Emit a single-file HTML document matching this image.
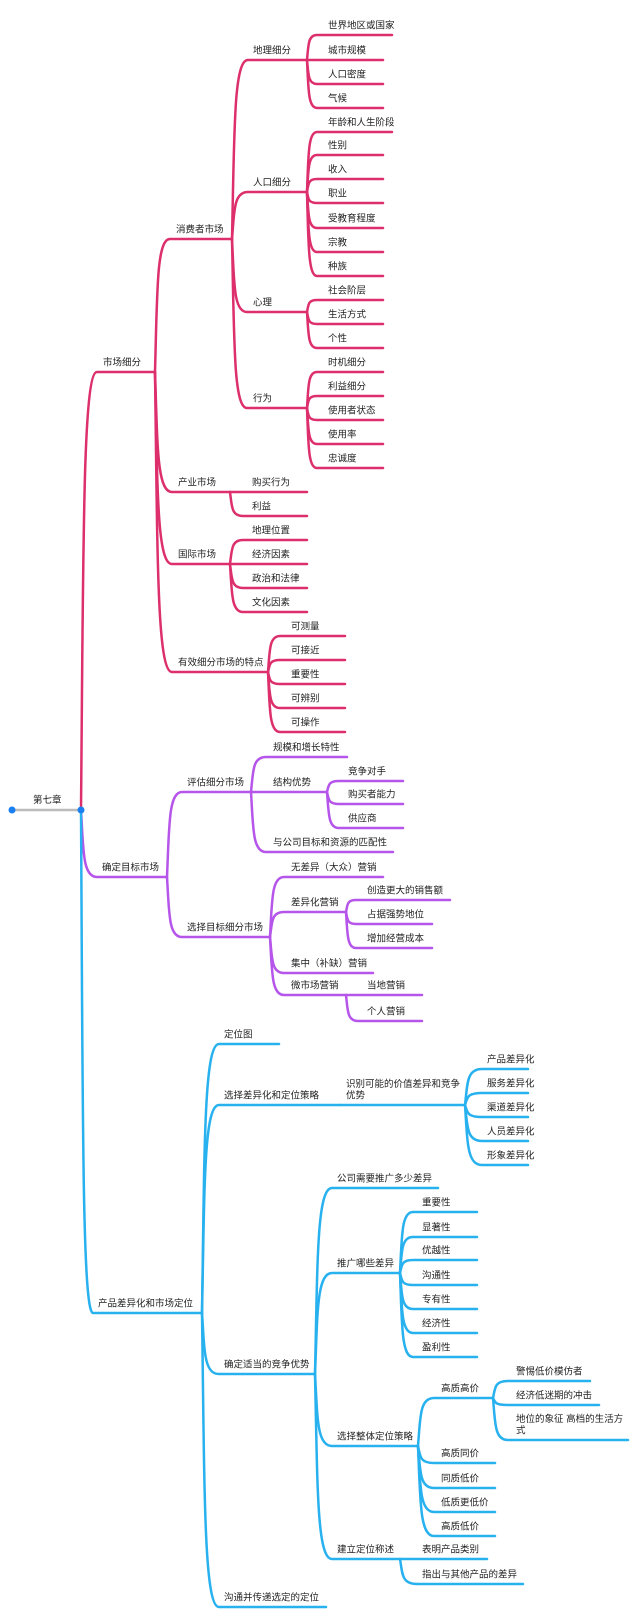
<!DOCTYPE html>
<html><head><meta charset="utf-8">
<style>
html,body{margin:0;padding:0;background:#fff;}
svg{display:block;}
text{font-family:"Liberation Sans","Noto Sans CJK SC",sans-serif;font-size:9.5px;fill:#222;}
</style></head>
<body>
<svg id="s" width="640" height="1620" viewBox="0 0 640 1620" xmlns="http://www.w3.org/2000/svg">
<line x1="12" y1="810" x2="81" y2="810" stroke="#bbbbbb" stroke-width="2.5"/>
<text x="33" y="803">第七章</text>
</svg>
<script>
var P="#dc2f6c",U="#b655ea",B="#28b1ef";
// [text, x1, uly, x2, px, py, color, textX, line2]
var N=[
["市场细分",97,372,155,81,810,P],
["消费者市场",170,239,232,155,372,P],
["产业市场",172,492,230,155,372,P],
["购买行为",230,492,307,230,492,P,252],
["利益",243,516,307,230,492,P,252],
["国际市场",172,564,230,155,372,P],
["地理位置",243,540,307,230,564,P,252],
["经济因素",230,564,307,230,564,P,252],
["政治和法律",243,588,307,230,564,P,252],
["文化因素",243,612,307,230,564,P,252],
["有效细分市场的特点",172,672,268,155,372,P],
["可测量",280,636,345,268,672,P,291],
["可接近",280,660,345,268,672,P,291],
["重要性",280,684,345,268,672,P,291],
["可辨别",280,708,345,268,672,P,291],
["可操作",280,732,345,268,672,P,291],
["地理细分",248,60,307,232,239,P,253],
["人口细分",248,192,307,232,239,P,253],
["心理",247,312,307,232,239,P,253],
["行为",247,408,307,232,239,P,253],
["世界地区或国家",317,35,392,307,60,P,328],
["城市规模",317,60,383,307,60,P,328],
["人口密度",317,84,383,307,60,P,328],
["气候",317,108,383,307,60,P,328],
["年龄和人生阶段",317,132,392,307,192,P,328],
["性别",317,155,383,307,192,P,328],
["收入",317,179,383,307,192,P,328],
["职业",317,203,383,307,192,P,328],
["受教育程度",317,228,383,307,192,P,328],
["宗教",317,252,383,307,192,P,328],
["种族",317,276,383,307,192,P,328],
["社会阶层",317,300,383,307,312,P,328],
["生活方式",317,324,383,307,312,P,328],
["个性",317,348,383,307,312,P,328],
["时机细分",317,372,383,307,408,P,328],
["利益细分",317,396,383,307,408,P,328],
["使用者状态",317,420,383,307,408,P,328],
["使用率",317,444,383,307,408,P,328],
["忠诚度",317,468,383,307,408,P,328],

["确定目标市场",97,877,167,81,810,U,102],
["评估细分市场",182,792,251,167,877,U,187],
["选择目标细分市场",182,937,270,167,877,U,187],
["规模和增长特性",266,757,347,251,792,U,273],
["结构优势",251,792,327,251,792,U,273],
["与公司目标和资源的匹配性",266,852,393,251,792,U,273],
["竞争对手",339,781,403,327,792,U,348],
["购买者能力",339,804,403,327,792,U,348],
["供应商",339,828,403,327,792,U,348],
["无差异（大众）营销",284,877,383,270,937,U,291],
["差异化营销",284,912,346,270,937,U,291],
["集中（补缺）营销",284,973,373,270,937,U,291],
["微市场营销",284,995,346,270,937,U,291],
["创造更大的销售额",356,900,450,346,912,U,367],
["占据强势地位",356,924,432,346,912,U,367],
["增加经营成本",356,948,432,346,912,U,367],
["当地营销",346,995,422,346,995,U,367],
["个人营销",358,1021,422,346,995,U,367],

["产品差异化和市场定位",93,1313,202,81,810,B,98],
["定位图",219,1044,279,202,1313,B,224],
["选择差异化和定位策略",219,1105,340,202,1313,B,224],
["确定适当的竞争优势",219,1374,315,202,1313,B,224],
["沟通并传递选定的定位",219,1607,326,202,1313,B,224],
["识别可能的价值差异和竞争",340,1105,465,340,1105,B,346,"优势"],
["产品差异化",482,1069,528,465,1105,B,487],
["服务差异化",482,1093,528,465,1105,B,487],
["渠道差异化",482,1117,528,465,1105,B,487],
["人员差异化",482,1141,528,465,1105,B,487],
["形象差异化",482,1165,528,465,1105,B,487],
["公司需要推广多少差异",332,1188,438,315,1374,B,337],
["推广哪些差异",332,1273,400,315,1374,B,337],
["选择整体定位策略",332,1446,418,315,1374,B,337],
["建立定位称述",332,1559,400,315,1374,B,337],
["重要性",413,1212,477,400,1273,B,422],
["显著性",413,1237,477,400,1273,B,422],
["优越性",413,1260,477,400,1273,B,422],
["沟通性",413,1285,477,400,1273,B,422],
["专有性",413,1309,477,400,1273,B,422],
["经济性",413,1333,477,400,1273,B,422],
["盈利性",413,1357,477,400,1273,B,422],
["高质高价",434,1398,493,418,1446,B,441],
["高质同价",434,1463,495,418,1446,B,441],
["同质低价",434,1488,495,418,1446,B,441],
["低质更低价",434,1512,495,418,1446,B,441],
["高质低价",434,1536,495,418,1446,B,441],
["警惕低价模仿者",508,1381,590,493,1398,B,516],
["经济低迷期的冲击",508,1405,599,493,1398,B,516],
["地位的象征 高档的生活方",508,1440,628,493,1398,B,516,"式"],
["表明产品类别",400,1559,487,400,1559,B,422],
["指出与其他产品的差异",417,1584,523,400,1559,B,422]
];
var s=document.getElementById("s"),ns="http://www.w3.org/2000/svg";
var paths=[],texts=[];
N.forEach(function(n){
  var t=n[0],x1=n[1],y=n[2],x2=n[3],px=n[4],py=n[5],c=n[6],tx=n[7]||x1+6,l2=n[8];
  var d;
  if(Math.abs(y-py)<1){d="M"+px+","+y+"L"+x2+","+y;}
  else{var dx=x1-px;
    d="M"+px+","+py+"C"+(px+dx*0.15)+","+(py+(y-py)*0.6)+" "+(px+dx*0.1)+","+y+" "+x1+","+y+"L"+x2+","+y;}
  var p=document.createElementNS(ns,"path");
  p.setAttribute("d",d);p.setAttribute("fill","none");p.setAttribute("stroke",c);
  p.setAttribute("stroke-width","2.5");p.setAttribute("stroke-linecap","round");
  paths.push(p);
  if(l2){
    var a=document.createElementNS(ns,"text");a.setAttribute("x",tx);a.setAttribute("y",y-18);a.textContent=t;texts.push(a);
    var b=document.createElementNS(ns,"text");b.setAttribute("x",tx);b.setAttribute("y",y-6.5);b.textContent=l2;texts.push(b);
  }else{
    var e=document.createElementNS(ns,"text");e.setAttribute("x",tx);e.setAttribute("y",y-6.5);e.textContent=t;texts.push(e);
  }
});
paths.forEach(function(p){s.appendChild(p);});
texts.forEach(function(p){s.appendChild(p);});
[[12,810],[81,810]].forEach(function(q){var c=document.createElementNS(ns,"circle");c.setAttribute("cx",q[0]);c.setAttribute("cy",q[1]);c.setAttribute("r","3.5");c.setAttribute("fill","#1a7ff0");s.appendChild(c);});
</script>
</body></html>
